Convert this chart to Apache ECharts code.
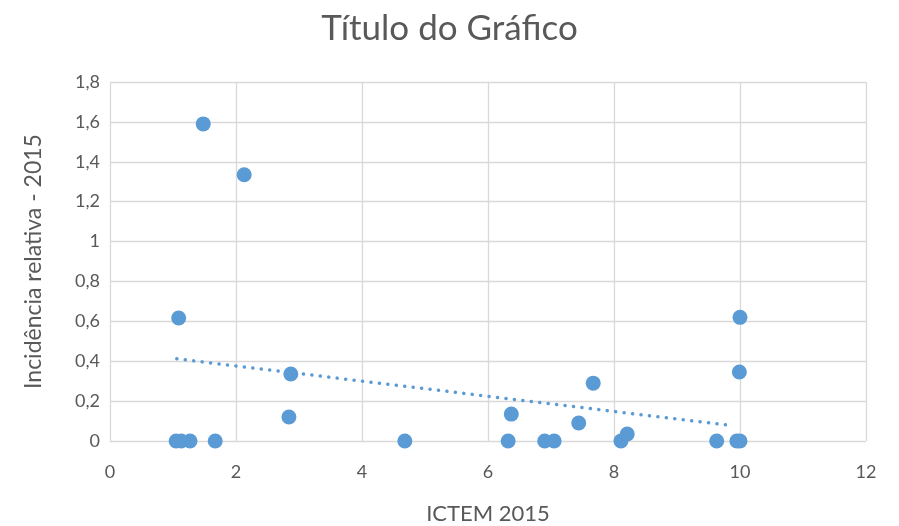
<!DOCTYPE html>
<html><head><meta charset="utf-8">
<script src="https://cdn.jsdelivr.net/npm/echarts@6/dist/echarts.min.js"></script>
<style>html,body{margin:0;padding:0;background:#fff}#c{width:899px;height:526px}</style>
</head><body><div id="c"></div>
<script>
const xValues = [1.48, 2.13, 1.09, 1.05, 1.13, 1.27, 1.67, 2.87, 2.84, 4.68, 6.37, 6.32, 6.9, 7.05, 7.44, 7.67, 8.11, 8.21, 9.63, 9.95, 10.0, 10.0, 9.99];
const yValues = [1.59, 1.335, 0.617, 0, 0, 0, 0, 0.336, 0.12, 0, 0.135, 0, 0, 0, 0.09, 0.29, 0, 0.035, 0, 0, 0, 0.62, 0.346];
const trendX = [1.06, 9.9];
const trendY = [0.412, 0.076];
const titleText = 'Título do Gráfico';
const xTitle = 'ICTEM 2015';
const yTitle = 'Incidência relativa - 2015';

const pts = xValues.map((x, i) => [x, yValues[i]]);
const trend = trendX.map((x, i) => [x, trendY[i]]);
const fmt = v => String(Math.round(v * 10) / 10).replace('.', ',');
const font = 'Lato, "Open Sans", sans-serif';
const chart = echarts.init(document.getElementById('c'));
chart.setOption({
  animation: false,
  title: { text: titleText, left: 'center', top: 6, textStyle: { fontFamily: font, fontSize: 35, fontWeight: 'normal', color: '#595959' } },
  grid: { left: 110, right: 33, top: 82, bottom: 85, containLabel: false, outerBoundsMode: 'none' },
  xAxis: {
    type: 'value', min: 0, max: 12, interval: 2,
    name: xTitle, nameLocation: 'middle', nameGap: 62,
    nameTextStyle: { fontFamily: font, fontSize: 22, color: '#595959' },
    axisLine: { show: false }, axisTick: { show: false },
    axisLabel: { formatter: fmt, fontFamily: font, fontSize: 18, color: '#595959', margin: 22 },
    splitLine: { lineStyle: { color: '#d9d9d9', width: 1.3 } }
  },
  yAxis: {
    type: 'value', min: 0, max: 1.8, interval: 0.2,
    name: yTitle, nameLocation: 'middle', nameGap: 65,
    nameTextStyle: { fontFamily: font, fontSize: 23, color: '#595959' },
    axisLine: { show: false }, axisTick: { show: false },
    axisLabel: { formatter: fmt, fontFamily: font, fontSize: 18, color: '#595959', margin: 10 },
    splitLine: { lineStyle: { color: '#d9d9d9', width: 1.3 } }
  },
  series: [
    { type: 'line', data: trend, symbol: 'none', lineStyle: { color: '#5b9bd5', width: 3.5, type: [0.1, 8.4], cap: 'round' }, z: 3 },
    { type: 'scatter', data: pts, symbolSize: 15, itemStyle: { color: '#5b9bd5', opacity: 1 }, z: 4 }
  ]
});
</script></body></html>
